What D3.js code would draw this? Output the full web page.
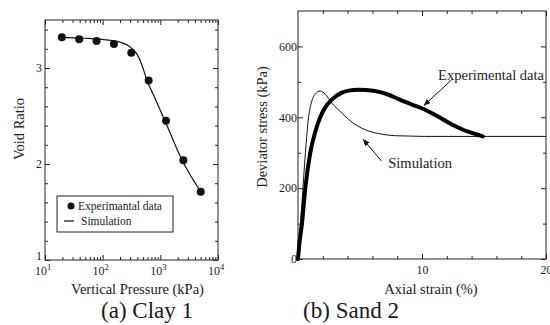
<!DOCTYPE html>
<html>
<head>
<meta charset="utf-8">
<script src="https://cdn.jsdelivr.net/npm/d3@7"></script>
<style>
  body { margin: 0; background: #fff; }
  svg, svg text { font-family: "Liberation Serif", "DejaVu Serif", serif; }
</style>
</head>
<body>
<svg id="chart" width="550" height="325"></svg>
<script>
// (a) Clay 1 : oedometer test
const clayPressure = [19.6, 39.2, 78.4, 156.8, 313.6, 627.2, 1254.4, 2508.8, 5017.6];
const clayVoid = [3.32, 3.30, 3.28, 3.25, 3.16, 2.87, 2.45, 2.04, 1.71];
const claySimPressure = [17, 50, 90, 200, 297, 388, 474, 580, 800, 1202, 2340, 5020];
const claySimVoid = [3.32, 3.31, 3.30, 3.27, 3.22, 3.15, 3.04, 2.88, 2.69, 2.45, 2.05, 1.71];

// (b) Sand 2 : triaxial test
const sandExpStrain = [0, 0.1, 0.32, 0.59, 0.99, 1.4, 1.79, 2.2, 2.73, 3.5, 4.2, 4.8, 5.5, 6.2, 7.2, 8.2, 9.2, 10.2, 11.5, 12.5, 13.5, 14.2, 14.9];
const sandExpStress = [0, 40, 100, 200, 300, 360, 400, 428, 450, 469, 476, 478, 477, 474, 465, 450, 436, 422, 398, 378, 362, 354, 346];
const sandSimStrain = [0, 0.3, 0.6, 0.85, 1.07, 1.4, 1.79, 2.2, 2.73, 3.3, 3.8, 4.4, 5.1, 5.8, 6.5, 7.2, 7.8, 9, 10.2, 12, 15, 20];
const sandSimStress = [0, 150, 300, 400, 440, 466, 474, 465, 440, 420, 403, 385, 370, 360, 354, 350, 348, 347, 346, 346, 346, 346];

// tick labels
const clayYTicks = [1, 2, 3];
const clayXDecades = [10, 100, 1000, 10000];
const sandYTicks = [0, 200, 400, 600];
const sandXTicks = [10, 20];

const FONT = '"Liberation Serif", "DejaVu Serif", serif';
const svg = d3.select('#chart').attr('font-family', FONT);

const defs = svg.append('defs');
defs.append('marker')
    .attr('id', 'head')
    .attr('viewBox', '0 0 10 10')
    .attr('refX', 9).attr('refY', 5)
    .attr('markerWidth', 7).attr('markerHeight', 7)
    .attr('markerUnits', 'userSpaceOnUse')
    .attr('orient', 'auto')
    .append('path')
    .attr('d', 'M0,1 L10,5 L0,9 Z')
    .attr('fill', '#111');

function styleAxis(g) {
    g.attr('font-family', FONT).attr('font-size', 12);
    g.select('.domain').remove();
    g.selectAll('.tick line').attr('stroke', '#222');
    g.selectAll('.tick text').attr('fill', '#222');
}

function frame(x0, x1, y0, y1) {
    svg.append('rect')
        .attr('x', x0).attr('y', y0)
        .attr('width', x1 - x0).attr('height', y1 - y0)
        .attr('fill', 'none').attr('stroke', '#222').attr('stroke-width', 1);
}

function label(x, y, size, txt) {
    return svg.append('text')
        .attr('x', x).attr('y', y)
        .attr('text-anchor', 'middle')
        .attr('font-family', FONT)
        .attr('font-size', size).attr('fill', '#1a1a1a')
        .text(txt);
}

// ---------- (a) Clay 1 ----------
const cx = d3.scaleLog().domain([10, 10000]).range([45, 218]);
const cy = d3.scaleLinear().domain([1, 3.5]).range([260, 20]);

const logMinor = [];
[10, 100, 1000].forEach(d => { for (let k = 2; k <= 9; k++) logMinor.push(k * d); });
const clayMinorY = d3.range(1.2, 3.5, 0.2).filter(v => Math.abs(v - Math.round(v)) > 0.01);

// bottom
svg.append('g').attr('transform', 'translate(0,260)')
    .call(d3.axisBottom(cx).tickValues(clayXDecades).tickSizeInner(-5).tickFormat(''))
    .call(styleAxis);
svg.append('g').attr('transform', 'translate(0,260)')
    .call(d3.axisBottom(cx).tickValues(logMinor).tickSizeInner(-3).tickFormat(''))
    .call(styleAxis);
// top
svg.append('g').attr('transform', 'translate(0,20)')
    .call(d3.axisTop(cx).tickValues(clayXDecades).tickSizeInner(-5).tickFormat(''))
    .call(styleAxis);
svg.append('g').attr('transform', 'translate(0,20)')
    .call(d3.axisTop(cx).tickValues(logMinor).tickSizeInner(-3).tickFormat(''))
    .call(styleAxis);
// left / right
svg.append('g').attr('transform', 'translate(45,0)')
    .call(d3.axisLeft(cy).tickValues(clayYTicks).tickSizeInner(-5).tickPadding(3).tickFormat(d3.format('d')))
    .call(styleAxis)
    .call(g => g.selectAll('.tick text').filter(d => d === 1).attr('dy', '-0.05em'));
svg.append('g').attr('transform', 'translate(45,0)')
    .call(d3.axisLeft(cy).tickValues(clayMinorY).tickSizeInner(-3).tickFormat(''))
    .call(styleAxis);
svg.append('g').attr('transform', 'translate(218,0)')
    .call(d3.axisRight(cy).tickValues(clayYTicks).tickSizeInner(-5).tickFormat(''))
    .call(styleAxis);
svg.append('g').attr('transform', 'translate(218,0)')
    .call(d3.axisRight(cy).tickValues(clayMinorY).tickSizeInner(-3).tickFormat(''))
    .call(styleAxis);

// powers of ten labels
const decLabels = svg.append('g').attr('fill', '#222').attr('font-size', 12).attr('font-family', FONT);
clayXDecades.forEach(d => {
    const t = decLabels.append('text')
        .attr('x', cx(d) - 2).attr('y', 275)
        .attr('text-anchor', 'middle');
    t.append('tspan').text('10');
    t.append('tspan').attr('dy', -5).attr('font-size', 8.5).text(Math.round(Math.log10(d)));
});

frame(45, 218, 20, 260);

const clayLine = d3.line()
    .x(d => cx(d[0])).y(d => cy(d[1]))
    .curve(d3.curveMonotoneX);
svg.append('path')
    .attr('d', clayLine(d3.zip(claySimPressure, claySimVoid)))
    .attr('fill', 'none').attr('stroke', '#111').attr('stroke-width', 1.2);

svg.append('g').selectAll('circle')
    .data(d3.zip(clayPressure, clayVoid))
    .join('circle')
    .attr('cx', d => cx(d[0])).attr('cy', d => cy(d[1]))
    .attr('r', 4).attr('fill', '#111');

// legend
const leg = svg.append('g').attr('font-size', 11.5).attr('fill', '#222').attr('font-family', FONT);
leg.append('rect').attr('x', 57).attr('y', 196).attr('width', 116).attr('height', 36)
    .attr('fill', '#fff').attr('stroke', '#222');
leg.append('circle').attr('cx', 71).attr('cy', 206).attr('r', 3.5).attr('fill', '#111');
leg.append('text').attr('x', 78).attr('y', 210).text('Experimantal data');
leg.append('line').attr('x1', 64).attr('x2', 74).attr('y1', 221).attr('y2', 221)
    .attr('stroke', '#111').attr('stroke-width', 1.2);
leg.append('text').attr('x', 81).attr('y', 225).text('Simulation');

svg.append('text')
    .attr('transform', 'translate(19,129) rotate(-90)')
    .attr('text-anchor', 'middle').attr('dominant-baseline', 'central')
    .attr('font-family', FONT)
    .attr('font-size', 14.5).attr('fill', '#222')
    .text('Void Ratio');
label(137.5, 294, 14.5, 'Vertical Pressure (kPa)');
label(147, 318, 23, '(a) Clay 1');

// ---------- (b) Sand 2 ----------
const sx = d3.scaleLinear().domain([0, 20]).range([298, 546]);
const sy = d3.scaleLinear().domain([0, 700]).range([259, 11]);

const sandMinorX = d3.range(2, 20, 2).filter(v => v !== 10);
const sandMinorY = d3.range(100, 700, 200);

svg.append('g').attr('transform', 'translate(0,259)')
    .call(d3.axisBottom(sx).tickValues(sandXTicks).tickSizeInner(-5).tickPadding(6).tickFormat(d3.format('d')))
    .call(styleAxis);
svg.append('g').attr('transform', 'translate(0,259)')
    .call(d3.axisBottom(sx).tickValues(sandMinorX).tickSizeInner(-3).tickFormat(''))
    .call(styleAxis);
svg.append('g').attr('transform', 'translate(0,11)')
    .call(d3.axisTop(sx).tickValues(sandXTicks).tickSizeInner(-5).tickFormat(''))
    .call(styleAxis);
svg.append('g').attr('transform', 'translate(0,11)')
    .call(d3.axisTop(sx).tickValues(sandMinorX).tickSizeInner(-3).tickFormat(''))
    .call(styleAxis);
svg.append('g').attr('transform', 'translate(298,0)')
    .call(d3.axisLeft(sy).tickValues(sandYTicks).tickSizeInner(-5).tickPadding(1).tickFormat(d3.format('d')))
    .call(styleAxis);
svg.append('g').attr('transform', 'translate(298,0)')
    .call(d3.axisLeft(sy).tickValues(sandMinorY).tickSizeInner(-3).tickFormat(''))
    .call(styleAxis);
svg.append('g').attr('transform', 'translate(546,0)')
    .call(d3.axisRight(sy).tickValues(sandYTicks).tickSizeInner(-5).tickFormat(''))
    .call(styleAxis);
svg.append('g').attr('transform', 'translate(546,0)')
    .call(d3.axisRight(sy).tickValues(sandMinorY).tickSizeInner(-3).tickFormat(''))
    .call(styleAxis);

frame(298, 546, 11, 259);

const sandLine = d3.line()
    .x(d => sx(d[0])).y(d => sy(d[1]))
    .curve(d3.curveMonotoneX);
svg.append('path')
    .attr('d', sandLine(d3.zip(sandSimStrain, sandSimStress)))
    .attr('fill', 'none').attr('stroke', '#111').attr('stroke-width', 1);
svg.append('path')
    .attr('d', sandLine(d3.zip(sandExpStrain, sandExpStress)))
    .attr('fill', 'none').attr('stroke', '#000').attr('stroke-width', 4)
    .attr('stroke-linecap', 'round').attr('stroke-linejoin', 'round');

// annotations
svg.append('line')
    .attr('x1', sx(12.4)).attr('y1', sy(506))
    .attr('x2', sx(10.17)).attr('y2', sy(434))
    .attr('stroke', '#111').attr('stroke-width', 1)
    .attr('marker-end', 'url(#head)');
svg.append('text')
    .attr('x', sx(11.3)).attr('y', sy(506))
    .attr('font-family', FONT)
    .attr('font-size', 14.5).attr('fill', '#222')
    .text('Experimental data');

svg.append('line')
    .attr('x1', sx(6.75)).attr('y1', sy(276))
    .attr('x2', sx(5.27)).attr('y2', sy(337))
    .attr('stroke', '#111').attr('stroke-width', 1)
    .attr('marker-end', 'url(#head)');
svg.append('text')
    .attr('x', sx(7.28)).attr('y', sy(258))
    .attr('font-family', FONT)
    .attr('font-size', 14.5).attr('fill', '#222')
    .text('Simulation');

svg.append('text')
    .attr('transform', 'translate(262,127) rotate(-90)')
    .attr('text-anchor', 'middle').attr('dominant-baseline', 'central')
    .attr('font-family', FONT)
    .attr('font-size', 14.5).attr('fill', '#222')
    .text('Deviator stress (kPa)');
label(431, 294, 14.5, 'Axial strain (%)');
label(351, 318, 23, '(b) Sand 2');
</script>
</body>
</html>
